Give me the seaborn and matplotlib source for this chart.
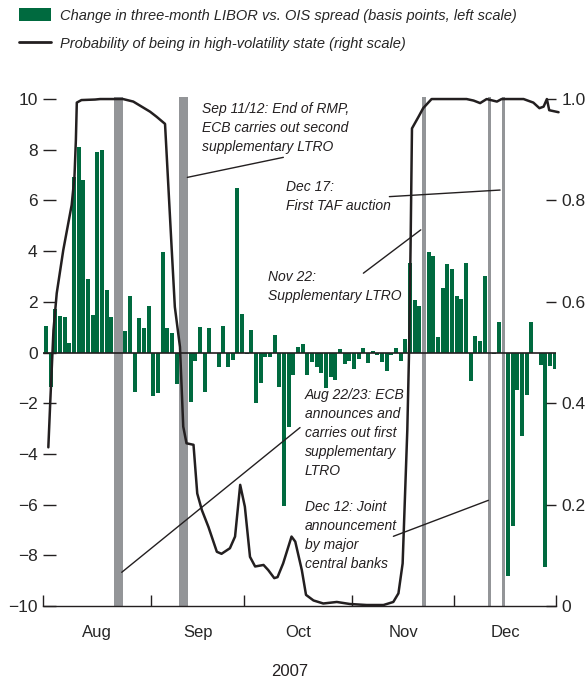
import numpy as np
import pandas as pd
import matplotlib
matplotlib.use("Agg")
import matplotlib.pyplot as plt
import seaborn as sns
from matplotlib.patches import Patch
from matplotlib.lines import Line2D

# ------------ Data ------------
# one bar per business day, Aug 1 .. Dec 31, 2007 (index 0 = Aug 1)
spread_change = [
    # Aug
    1.05, -1.35, 1.71, 1.43, 1.39, 0.38, 6.92, 8.10, 6.79, 2.90,
    1.48, 7.90, 8.00, 2.46, 1.39, 0.00, 0.00, 0.84, 2.23, -1.55,
    1.35, 0.96, 1.84,
    # Sep
    -1.70, -1.58, 3.97, 0.97, 0.76, -1.24, 0.00, 0.47, -1.97, -0.32,
    1.01, -1.54, 0.97, 0.00, -0.59, 1.05, -0.59, -0.29, 6.49, 1.52,
    # Oct
    -0.05, 0.90, -2.00, -1.21, -0.18, -0.18, 0.70, -1.37, -6.07, -2.94,
    -0.90, 0.21, 0.34, -0.90, -0.39, -0.58, -0.79, -1.40, -0.97, -1.10,
    0.14, -0.46, -0.35,
    # Nov
    -0.66, -0.26, 0.18, -0.42, 0.05, -0.08, -0.39, -0.74, -0.10, 0.18,
    -0.34, 0.53, 3.55, 2.08, 1.84, 2.14, 3.97, 3.81, 0.60, 2.55,
    3.50, 3.31,
    # Dec
    2.23, 2.10, 3.52, -1.14, 0.66, 0.46, 3.02, 0.00, -0.07, 1.21,
    0.00, -8.83, -6.83, -1.47, -3.29, -1.67, 1.21, 0.00, -0.49, -8.48,
    -0.53, -0.64,
]
day_idx = np.arange(len(spread_change))

# probability of high-volatility state (right scale), position in business days
prob_day = [0.5, 0.9, 1.6, 2.3, 3.7, 5.5, 6.1, 6.4, 6.6, 7.6,
            10.5, 11.6, 16.5, 18.7, 22.3, 23.7, 25.5, 26.9, 27.6, 28.7,
            29.4, 30.1, 31.6, 32.4, 33.4, 34.8, 36.6, 37.6, 39.4, 40.5,
            41.6, 42.6, 43.7, 44.8, 46.6, 47.6, 48.9, 49.6, 50.8, 52.6,
            53.4, 54.8, 55.7, 57.3, 59.4, 62.3, 65.1, 68.7, 72.3, 74.4,
            75.5, 76.4, 76.9, 77.4, 77.8, 78.1, 78.4, 79.8, 80.8, 82.6,
            90.1, 91.6, 93.0, 94.4, 96.6, 97.6, 102.3, 104.4, 105.7, 106.6,
            107.3, 107.8, 109.8]
prob = [0.313, 0.40, 0.544, 0.617, 0.702, 0.791, 0.847, 0.919, 0.993, 0.998,
        0.999, 1.0, 1.0, 0.995, 0.975, 0.965, 0.951, 0.709, 0.590, 0.511,
        0.354, 0.321, 0.318, 0.222, 0.189, 0.156, 0.107, 0.103, 0.114, 0.137,
        0.239, 0.196, 0.097, 0.078, 0.081, 0.071, 0.055, 0.057, 0.084, 0.137,
        0.127, 0.071, 0.022, 0.011, 0.005, 0.008, 0.004, 0.002, 0.002, 0.008,
        0.025, 0.084, 0.216, 0.347, 0.511, 0.709, 0.942, 0.965, 0.982, 1.0,
        1.0, 0.997, 0.992, 1.0, 0.995, 1.0, 1.0, 0.993, 0.982, 0.985,
        1.0, 0.978, 0.974]

# policy events (first / last business-day index)
event_first = [15, 29, 81, 95, 98]
event_last = [16, 30, 81, 95, 98]

month_labels = ["Aug", "Sep", "Oct", "Nov", "Dec"]
month_first_day = [0, 23, 43, 66, 88]

# ------------ Style ------------
GREEN = "#006a3f"
LINE = "#231f20"
BAND = "#939598"
FAMILY = ["Liberation Sans Narrow", "Liberation Sans", "DejaVu Sans"]

sns.set_theme(style="white")
plt.rcParams["font.family"] = FAMILY
plt.rcParams["axes.unicode_minus"] = True

fig = plt.figure(figsize=(5.85, 6.83), dpi=100)
ax = fig.add_axes([0.074, 0.1127, 0.876, 0.746])

df = pd.DataFrame({"day": day_idx, "change": spread_change})
sns.barplot(data=df, x="day", y="change", native_scale=True, color=GREEN,
            saturation=1, width=0.85, linewidth=0, errorbar=None, ax=ax,
            zorder=2)

for a, b in zip(event_first, event_last):
    ax.axvspan(a - 0.42, b + 0.42, color=BAND, lw=0, zorder=2.5)
ax.axhline(0, color=LINE, lw=1.2, zorder=3)

x_left, x_right = -0.58, 109.2
ax.set_xlim(x_left, x_right)
ax.set_ylim(-10, 10.1)
ax.set_yticks(np.arange(-10, 11, 2))
ax.set_yticklabels([f"{v}".replace("-", "\u2212") for v in range(-10, 11, 2)])
ax.set_xlabel("")
ax.set_ylabel("")

bounds = [x_left] + [d - 0.5 for d in month_first_day[1:]] + [x_right]
centers = [(bounds[i] + bounds[i + 1]) / 2 for i in range(len(month_labels))]
ax.set_xticks(bounds)
ax.set_xticklabels([])
ax.set_xticks(centers, minor=True)
ax.set_xticklabels(month_labels, minor=True)
ax.tick_params(axis="x", which="major", direction="in", length=8, width=1,
               color=LINE, bottom=True)
ax.tick_params(axis="x", which="minor", length=0, pad=14, labelsize=12)
ax.tick_params(axis="y", direction="in", length=9, width=1, color=LINE,
               pad=4, labelsize=12.5, left=True)
for s in ["top", "left", "right"]:
    ax.spines[s].set_visible(False)
ax.spines["bottom"].set_color(LINE)
ax.spines["bottom"].set_linewidth(1)

ax2 = ax.twinx()
sns.lineplot(x=prob_day, y=prob, ax=ax2, color=LINE, lw=1.8, sort=False)
ax2.lines[0].set_clip_on(False)
ax2.set_ylim(0, 1.005)
ax2.set_yticks([0, 0.2, 0.4, 0.6, 0.8, 1.0])
ax2.set_yticklabels(["0", "0.2", "0.4", "0.6", "0.8", "1.0"])
ax2.tick_params(axis="y", direction="in", length=7.5, width=1, color=LINE,
                pad=4, labelsize=12.5, right=True)
for s in ax2.spines.values():
    s.set_visible(False)
ax2.set_xlim(x_left, x_right)

# ------------ Annotations ------------
note_kw = dict(fontsize=10, style="italic", color="#231f20", ha="left",
               va="center", linespacing=1.45, zorder=4)
ax.text(33.4, 8.86, "Sep 11/12: End of RMP,\nECB carries out second\nsupplementary LTRO", **note_kw)
ax.text(51.4, 6.14, "Dec 17:\nFirst TAF auction", **note_kw)
ax.text(47.6, 2.61, "Nov 22:\nSupplementary LTRO", **note_kw)
ax.text(55.5, -3.18, "Aug 22/23: ECB\nannounces and\ncarries out first\nsupplementary\nLTRO", **note_kw)
ax.text(55.5, -7.21, "Dec 12: Joint\nannouncement\nby major\ncentral banks", **note_kw)

leaders = [((30.28, 6.91), (50.85, 7.70)),
           ((73.56, 6.15), (97.28, 6.41)),
           ((67.99, 3.13), (80.29, 4.84)),
           ((16.22, -8.67), (54.42, -2.96)),
           ((74.42, -7.25), (94.77, -5.83))]
for p0, p1 in leaders:
    ax.annotate("", xy=p0, xytext=p1,
                arrowprops=dict(arrowstyle="-", color=LINE, lw=1,
                                shrinkA=0, shrinkB=0), zorder=4)

fig.text(290 / 585, 1 - 672 / 683, "2007", ha="center", va="center",
         fontsize=12, color=LINE)

handles = [Patch(facecolor=GREEN, edgecolor="none"),
           Line2D([0], [0], color=LINE, lw=2)]
labels = ["Change in three-month LIBOR vs. OIS spread (basis points, left scale)",
          "Probability of being in high-volatility state (right scale)"]
fig.legend(handles, labels, loc="upper left",
           bbox_to_anchor=(19 / 585, 1 - 8 / 683), frameon=False,
           prop=dict(family=FAMILY, style="italic", size=10.5),
           handlelength=2.2, handleheight=1.0, handletextpad=0.6,
           labelspacing=0.95, borderpad=0, borderaxespad=0)

fig.savefig("out.png", dpi=100)
